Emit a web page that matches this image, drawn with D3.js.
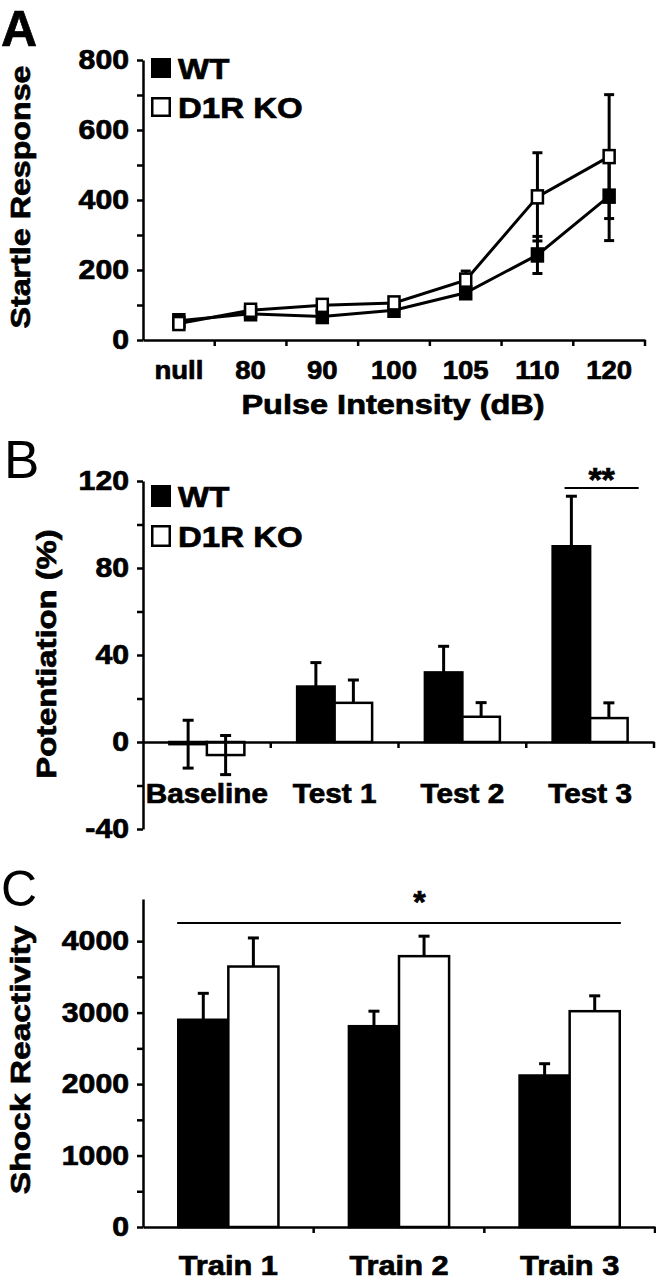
<!DOCTYPE html>
<html><head><meta charset="utf-8">
<script src="https://cdn.jsdelivr.net/npm/d3@7"></script>
<style>
body{margin:0;background:#fff}
svg{display:block}
text{font-family:"Liberation Sans",Arial,sans-serif;font-weight:bold;fill:#000;stroke:#000;stroke-width:0.7px}
text.letter{stroke:none}
</style></head><body>
<svg id="chart" width="656" height="1280"></svg>
<script>
// ---------- Panel A: startle ----------
const pulseLevels = ["null","80","90","100","105","110","120"];
const startleWT    = [55, 75, 67, 85, 135, 243, 411];
const startleWTErr = [6, 6, 6, 6, 8, 53, 127];
const startleKO    = [47, 85, 99, 106, 171, 409, 524];
const startleKOErr = [6, 6, 6, 8, 26, 126, 177];
const startleTicks = [0,100,200,300,400,500,600,700,800];
const startleLabels = [0,200,400,600,800];

// ---------- Panel B: potentiation ----------
const testPhases = ["Baseline","Test 1","Test 2","Test 3"];
const potWT    = [-1, 25.5, 32, 90];
const potWTErr = [11, 11, 12, 23];
const potKO    = [-6, 18, 11.6, 11];
const potKOErr = [9, 10.5, 6.5, 7];
const potTicks = [-40,-20,0,20,40,60,80,100,120];
const potLabels = [-40,0,40,80,120];

// ---------- Panel C: shock reactivity ----------
const trains = ["Train 1","Train 2","Train 3"];
const shockWT    = [2900, 2810, 2120];
const shockWTErr = [370, 210, 165];
const shockKO    = [3645, 3790, 3020];
const shockKOErr = [400, 280, 215];
const shockTicks = [0,500,1000,1500,2000,2500,3000,3500,4000];
const shockLabels = [0,1000,2000,3000,4000];

const groups = ["WT","D1R KO"];
const groupFill = {"WT":"#000","D1R KO":"#fff"};

const svg = d3.select("#chart");
const SW = 2.5;

function stretch(sel, sx){
  sel.each(function(){
    const t = d3.select(this);
    const x = +t.attr("x") || 0;
    t.attr("x", x/sx).attr("transform", `scale(${sx},1)`);
  });
}

function styleAxis(g, fs, sx){
  g.attr("font-family", null).attr("font-size", null);
  g.selectAll("line,path").attr("stroke","#000").attr("stroke-width",SW);
  const t = g.selectAll("text").style("font-size", fs+"px").style("font-weight","bold").attr("fill","#000");
  stretch(t, sx);
}

function yAxis(y, ticks, labels, fs){
  const g = svg.append("g").attr("transform","translate(143,0)")
    .call(d3.axisLeft(y).tickValues(ticks).tickSize(6).tickSizeOuter(0).tickPadding(8)
      .tickFormat(d => labels.includes(d) ? d : ""));
  styleAxis(g, fs, 1.12);
  return g;
}

function xAxis(x, y0, pad, fs){
  const g = svg.append("g").attr("transform",`translate(0,${y0})`)
    .call(d3.axisBottom(x).tickSize(0).tickSizeOuter(0).tickPadding(pad));
  styleAxis(g, fs, 1.1);
  g.selectAll("line.bt").data(x.domain()).join("line").attr("class","bt")
    .attr("x1", d => x(d)+x.bandwidth()).attr("x2", d => x(d)+x.bandwidth())
    .attr("y1",0).attr("y2",6).attr("stroke","#000").attr("stroke-width",SW);
  return g;
}

function yTitle(txt, x, y, fs, sx){
  svg.append("text").attr("transform",`translate(${x},${y}) rotate(-90) scale(${sx},1)`)
    .attr("text-anchor","middle").style("font-size",fs+"px").text(txt);
}

function panelLetter(txt, x, y, fs, weight){
  svg.append("text").attr("class", weight === "bold" ? null : "letter")
    .attr("x",x).attr("y",y).style("font-size",fs+"px").style("font-weight",weight).text(txt);
}

function legend(x, y0, dy, w, h){
  groups.forEach((gname,i) => {
    const cy = y0 + i*dy;
    svg.append("rect").attr("x",x+1.25).attr("y",cy-h/2+1.25).attr("width",w-2.5).attr("height",h-2.5)
      .attr("fill",groupFill[gname]).attr("stroke","#000").attr("stroke-width",SW);
    svg.append("text").attr("transform",`translate(${x+w+7},${cy+10.5}) scale(1.1,1)`)
      .style("font-size","30px").text(gname);
  });
}

// ================= Panel A =================
panelLetter("A", 1, 46, 50, "bold");
const xA = d3.scaleBand().domain(pulseLevels).range([143,645]);
const yA = d3.scaleLinear().domain([0,800]).range([340,60]);
yAxis(yA, startleTicks, startleLabels, 27);
xAxis(xA, 340, 21, 25);
yTitle("Startle Response", 30, 197, 28, 1.15);
svg.append("text").attr("transform","translate(393,414) scale(1.16,1)").attr("text-anchor","middle")
  .style("font-size","28px").text("Pulse Intensity (dB)");

const cxA = d => xA(d) + xA.bandwidth()/2;
const seriesA = [
  {g:"WT", vals:startleWT, err:startleWTErr},
  {g:"D1R KO", vals:startleKO, err:startleKOErr}
];
const lineA = d3.line().x((d,i) => cxA(pulseLevels[i])).y(d => yA(d));
seriesA.forEach(s => {
  const gs = svg.append("g");
  gs.selectAll("line.eb").data(s.vals).join("line")
    .attr("x1",(d,i)=>cxA(pulseLevels[i])).attr("x2",(d,i)=>cxA(pulseLevels[i]))
    .attr("y1",(d,i)=>yA(d - s.err[i])).attr("y2",(d,i)=>yA(d + s.err[i]))
    .attr("stroke","#000").attr("stroke-width",3);
  [-1,1].forEach(sgn => {
    gs.selectAll("line.cap"+sgn).data(s.vals).join("line")
      .attr("x1",(d,i)=>cxA(pulseLevels[i])-5).attr("x2",(d,i)=>cxA(pulseLevels[i])+5)
      .attr("y1",(d,i)=>yA(d + sgn*s.err[i])).attr("y2",(d,i)=>yA(d + sgn*s.err[i]))
      .attr("stroke","#000").attr("stroke-width",3);
  });
  gs.append("path").datum(s.vals).attr("d",lineA).attr("fill","none").attr("stroke","#000").attr("stroke-width",3);
});
seriesA.forEach(s => {
  svg.append("g").selectAll("rect").data(s.vals).join("rect")
    .attr("x",(d,i)=>cxA(pulseLevels[i])-5.5).attr("y",d=>yA(d)-6.5)
    .attr("width",11).attr("height",13)
    .attr("fill",groupFill[s.g]).attr("stroke","#000").attr("stroke-width",2.5);
});
legend(151, 68, 39, 20, 20);

// ================= bar helper =================
function bars(x, y, cats, wt, wtErr, ko, koErr){
  const sub = d3.scaleBand().domain(groups).range([x.bandwidth()*0.2065, x.bandwidth()*0.7935]);
  const rows = [];
  cats.forEach((c,i) => {
    rows.push({c, g:"WT", v:wt[i], e:wtErr[i]});
    rows.push({c, g:"D1R KO", v:ko[i], e:koErr[i]});
  });
  const g = svg.append("g");
  g.selectAll("rect").data(rows).join("rect")
    .attr("x", d => x(d.c)+sub(d.g)).attr("width", sub.bandwidth())
    .attr("y", d => Math.min(y(d.v), y(0))).attr("height", d => Math.max(Math.abs(y(d.v)-y(0)),1))
    .attr("fill", d => groupFill[d.g]).attr("stroke","#000").attr("stroke-width",SW);
  const cx = d => x(d.c)+sub(d.g)+sub.bandwidth()/2;
  const lo = d => d.v <= 0 ? d.v - d.e : d.v;
  g.selectAll("line.eb").data(rows).join("line").attr("class","eb")
    .attr("x1",cx).attr("x2",cx).attr("y1",d=>y(lo(d))).attr("y2",d=>y(d.v+d.e))
    .attr("stroke","#000").attr("stroke-width",3);
  g.selectAll("line.cu").data(rows).join("line").attr("class","cu")
    .attr("x1",d=>cx(d)-5.5).attr("x2",d=>cx(d)+5.5).attr("y1",d=>y(d.v+d.e)).attr("y2",d=>y(d.v+d.e))
    .attr("stroke","#000").attr("stroke-width",3);
  g.selectAll("line.cl").data(rows.filter(d=>d.v<=0)).join("line").attr("class","cl")
    .attr("x1",d=>cx(d)-5.5).attr("x2",d=>cx(d)+5.5).attr("y1",d=>y(d.v-d.e)).attr("y2",d=>y(d.v-d.e))
    .attr("stroke","#000").attr("stroke-width",3);
}

// ================= Panel B =================
panelLetter("B", 4, 478, 53, "normal");
const xB = d3.scaleBand().domain(testPhases).range([143,654]);
const yB = d3.scaleLinear().domain([-40,120]).range([829,481]);
yAxis(yB, potTicks, potLabels, 27);
bars(xB, yB, testPhases, potWT, potWTErr, potKO, potKOErr);
xAxis(xB, yB(0), 42, 27);
yTitle("Potentiation (%)", 56, 654, 28, 1.17);
legend(151, 496, 40, 20, 22);
// significance
svg.append("line").attr("x1", xB("Test 3")+xB.bandwidth()*0.3).attr("x2", xB("Test 3")+xB.bandwidth()*0.88)
  .attr("y1",488).attr("y2",488).attr("stroke","#000").attr("stroke-width",2.2);
svg.append("text").attr("transform",`translate(${xB("Test 3")+xB.bandwidth()*0.59},491)`).attr("text-anchor","middle")
  .style("font-size","34px").text("**");

// ================= Panel C =================
panelLetter("C", 1, 906, 50, "normal");
const xC = d3.scaleBand().domain(trains).range([143,655]);
const yC = d3.scaleLinear().domain([0,4590]).range([1227,899]);
yAxis(yC, shockTicks, shockLabels, 27);
bars(xC, yC, trains, shockWT, shockWTErr, shockKO, shockKOErr);
xAxis(xC, 1227, 28, 28);
yTitle("Shock Reactivity", 30, 1060, 28, 1.2);
svg.append("line").attr("x1", xC("Train 1")+xC.bandwidth()*0.2).attr("x2", xC("Train 3")+xC.bandwidth()*0.8)
  .attr("y1",923).attr("y2",923).attr("stroke","#000").attr("stroke-width",2.2);
svg.append("text").attr("x", xC("Train 2")+xC.bandwidth()*0.62).attr("y",913).attr("text-anchor","middle")
  .style("font-size","32px").text("*");
</script>
</body></html>
